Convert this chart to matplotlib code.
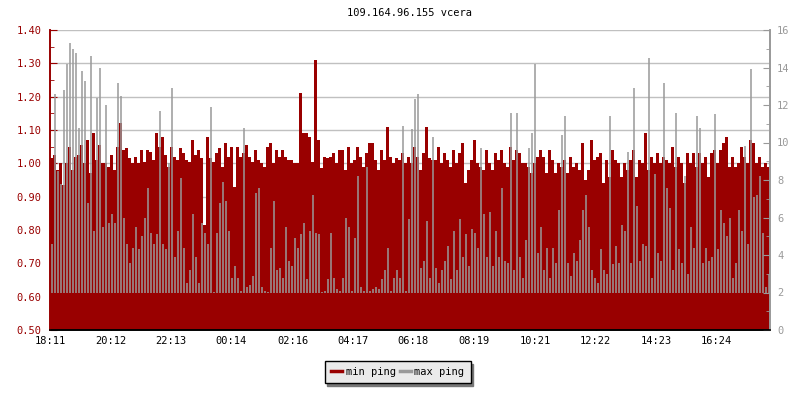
import numpy as np
import matplotlib
matplotlib.use("Agg")
import matplotlib.pyplot as plt

# ping data, one sample every 6 minutes over 24 h
min_ping = [
    1.015, 1.025, 0.98, 1.00, 0.935, 1.00, 1.05, 0.98, 1.02, 1.025, 1.055, 1.00, 1.07, 0.97, 1.09, 1.01, 1.055, 1.00, 1.00, 0.99,
    1.025, 0.98, 1.05, 1.12, 1.04, 1.045, 1.015, 1.00, 1.02, 1.00, 1.04, 1.005, 1.04, 1.035, 1.01, 1.09, 1.05, 1.08, 1.025, 0.99,
    1.05, 1.02, 1.01, 1.045, 1.03, 1.01, 1.005, 1.07, 1.025, 1.04, 1.015, 0.815, 1.08, 1.015, 1.005, 1.03, 1.045, 0.99, 1.06, 1.02,
    1.05, 0.93, 1.05, 1.02, 1.03, 1.055, 1.02, 1.005, 1.04, 1.01, 1.00, 0.99, 1.05, 1.06, 1.00, 1.04, 1.02, 1.04, 1.02, 1.01,
    1.01, 1.00, 1.00, 1.21, 1.09, 1.09, 1.08, 1.005, 1.31, 1.07, 0.985, 1.02, 1.015, 1.02, 1.03, 1.00, 1.04, 1.04, 0.98, 1.05,
    1.00, 1.01, 1.05, 1.02, 0.99, 1.03, 1.06, 1.06, 1.01, 0.98, 1.04, 1.01, 1.11, 1.02, 1.00, 1.015, 1.01, 1.03, 1.00, 1.02,
    1.00, 1.05, 1.02, 0.98, 1.03, 1.11, 1.015, 1.01, 1.01, 1.05, 1.00, 1.03, 1.01, 0.99, 1.04, 1.00, 1.03, 1.06, 0.94, 0.98,
    1.01, 1.07, 1.00, 0.99, 0.98, 1.04, 1.00, 0.98, 1.03, 1.01, 1.04, 1.00, 0.99, 1.05, 1.01, 1.04, 1.03, 1.00, 1.00, 0.99,
    0.97, 1.00, 1.02, 1.04, 1.02, 0.97, 1.04, 1.01, 0.97, 1.00, 0.99, 1.01, 0.97, 1.02, 0.99, 1.00, 0.98, 1.06, 0.95, 0.98,
    1.07, 1.01, 1.02, 1.03, 0.94, 1.01, 0.96, 1.04, 1.01, 1.00, 0.96, 1.00, 0.98, 1.01, 1.04, 0.96, 1.01, 1.00, 1.09, 0.98,
    1.02, 1.00, 1.03, 1.00, 1.02, 1.01, 1.00, 1.05, 0.99, 1.02, 1.00, 0.94, 1.03, 1.00, 1.03, 0.99, 1.03, 1.00, 1.02, 0.96,
    1.03, 1.04, 1.00, 1.04, 1.06, 1.08, 0.99, 1.02, 0.99, 1.00, 1.05, 1.02, 1.00, 1.07, 1.06, 1.00, 1.02, 0.99, 1.00, 0.99,
]
max_ping = [
    4.6, 12.6, 8.5, 7.8, 12.8, 14.2, 15.3, 15.0, 14.8, 10.8, 13.8, 13.3, 6.8, 14.6, 5.3, 12.4, 14.0, 5.5, 12.0, 5.7,
    6.2, 5.7, 13.2, 12.5, 6.0, 4.6, 3.6, 4.4, 5.5, 4.3, 5.0, 6.0, 7.6, 5.2, 4.6, 5.1, 11.7, 4.6, 4.3, 8.9,
    12.9, 3.9, 5.3, 8.1, 4.4, 2.5, 3.2, 6.2, 3.9, 2.5, 5.7, 5.2, 4.6, 11.9, 2.05, 5.2, 6.8, 7.9, 6.9, 5.3,
    2.8, 3.4, 2.8, 2.1, 10.8, 2.3, 2.4, 2.9, 7.3, 7.6, 2.3, 2.1, 2.05, 4.4, 6.9, 3.2, 3.3, 2.8, 5.5, 3.7,
    3.4, 4.9, 4.4, 5.1, 5.7, 2.7, 5.3, 7.2, 5.2, 5.1, 2.05, 2.1, 2.7, 5.2, 2.8, 2.2, 2.1, 2.8, 6.0, 5.5,
    2.1, 4.9, 8.2, 2.3, 2.1, 8.7, 2.1, 2.2, 2.3, 2.2, 2.7, 3.2, 4.4, 2.1, 2.8, 3.2, 2.8, 10.9, 2.1, 5.9,
    10.7, 12.3, 12.6, 3.3, 3.7, 5.8, 2.8, 10.3, 3.3, 2.5, 3.2, 3.7, 4.5, 2.7, 5.3, 3.2, 5.9, 3.9, 5.1, 3.4,
    5.4, 5.2, 4.4, 9.7, 6.2, 3.9, 6.3, 3.4, 5.3, 3.9, 7.6, 3.7, 3.6, 11.6, 3.2, 11.6, 3.9, 2.8, 4.8, 9.7,
    10.5, 14.2, 4.1, 5.5, 3.2, 4.4, 2.8, 4.4, 3.6, 6.4, 10.4, 11.4, 3.6, 2.9, 4.1, 3.7, 4.8, 6.4, 7.2, 5.5,
    3.2, 2.8, 2.5, 4.3, 3.2, 3.0, 11.4, 3.5, 4.5, 3.6, 5.6, 5.3, 9.5, 3.6, 12.9, 6.6, 3.7, 4.6, 4.5, 14.5,
    2.8, 8.3, 4.1, 3.7, 13.2, 7.6, 6.5, 3.2, 11.6, 4.3, 3.6, 8.2, 3.0, 5.5, 4.4, 11.4, 10.8, 3.6, 4.4, 3.7,
    3.9, 11.5, 4.3, 6.4, 5.7, 5.0, 6.0, 2.8, 3.6, 6.4, 5.3, 9.8, 4.6, 13.9, 7.1, 7.2, 8.2, 5.2, 2.3, 3.0,
]
tick_labels = ["18:11", "20:12", "22:13", "00:14", "02:16", "04:17",
               "06:18", "08:19", "10:21", "12:22", "14:23", "16:24"]
start_label = "18:11"
step_min = 6          # minutes per sample
max_floor = 2.0       # lower end of the max-ping marks

RED = "#990000"
GREY = "#999999"

def minutes_after_start(label):
    h, m = map(int, label.split(":"))
    h0, m0 = map(int, start_label.split(":"))
    return ((h * 60 + m) - (h0 * 60 + m0)) % 1440

n = len(min_ping)
edges = np.arange(n + 1) * step_min
centers = edges[:-1] + step_min / 2

plt.rcParams["font.family"] = "DejaVu Sans Mono"
fig = plt.figure(figsize=(8, 4), dpi=100)
ax = fig.add_axes([0.0625, 0.175, 0.9, 0.75])
ax2 = ax.twinx()
ax2.patch.set_visible(False)

# min ping: filled area on the left axis, max ping: grey marks on the right axis
ax.stairs(min_ping, edges, baseline=0.5, fill=True, color=RED, linewidth=0, zorder=2)
ax2.vlines(centers, max_floor, max_ping, color=GREY, linewidth=1.1, zorder=3)

ax.set_xlim(0, 1440)
ax.set_ylim(0.5, 1.4)
ax2.set_ylim(0, 16)

ax.set_yticks(np.arange(0.5, 1.401, 0.1))
ax.set_yticks(np.arange(0.55, 1.4, 0.1), minor=True)
ax.set_yticklabels(["%.2f" % v for v in np.arange(0.5, 1.401, 0.1)])
ax2.set_yticks(range(0, 17, 2))
ax2.set_yticks(range(1, 16, 2), minor=True)
ax.set_xticks([minutes_after_start(s) for s in tick_labels])
ax.set_xticklabels(tick_labels)

ax.grid(axis="y", color="#c0c0c0", linewidth=1.0, zorder=1)
ax.set_axisbelow(True)

ax.tick_params(axis="y", which="both", direction="in", colors=RED, labelsize=7.5, pad=6)
ax.tick_params(axis="y", which="major", length=5)
ax.tick_params(axis="y", which="minor", length=3)
ax.tick_params(axis="x", direction="in", length=5, labelsize=7.5, colors="black", pad=4)
ax2.tick_params(axis="y", which="both", direction="in", colors=GREY, labelsize=7.5, pad=5)
ax2.tick_params(axis="y", which="major", length=5)
ax2.tick_params(axis="y", which="minor", length=3)

for a in (ax, ax2):
    a.spines["top"].set_visible(False)
    a.spines["left"].set_color(RED)
    a.spines["right"].set_color(GREY)
    a.spines["bottom"].set_color("black")
    for side in ("left", "right", "bottom"):
        a.spines[side].set_linewidth(1.2)

fig.text(0.5125, 1 - 13 / 400, "109.164.96.155 vcera", ha="center", va="center", fontsize=7.5)

handles = [plt.Line2D([], [], color=RED, linewidth=2.5),
           plt.Line2D([], [], color=GREY, linewidth=2.5)]
fig.legend(handles, ["min ping", "max ping"], loc="center", bbox_to_anchor=(0.497, 1 - 372 / 400),
           ncol=2, fontsize=7.5, frameon=True, fancybox=False, framealpha=1,
           facecolor="#eaeaea", edgecolor="black", shadow={"color": "#777777", "alpha": 1},
           handlelength=1.1, handletextpad=0.3, columnspacing=0.4, borderpad=0.6)

plt.savefig("out.png", dpi=100, facecolor="white")
